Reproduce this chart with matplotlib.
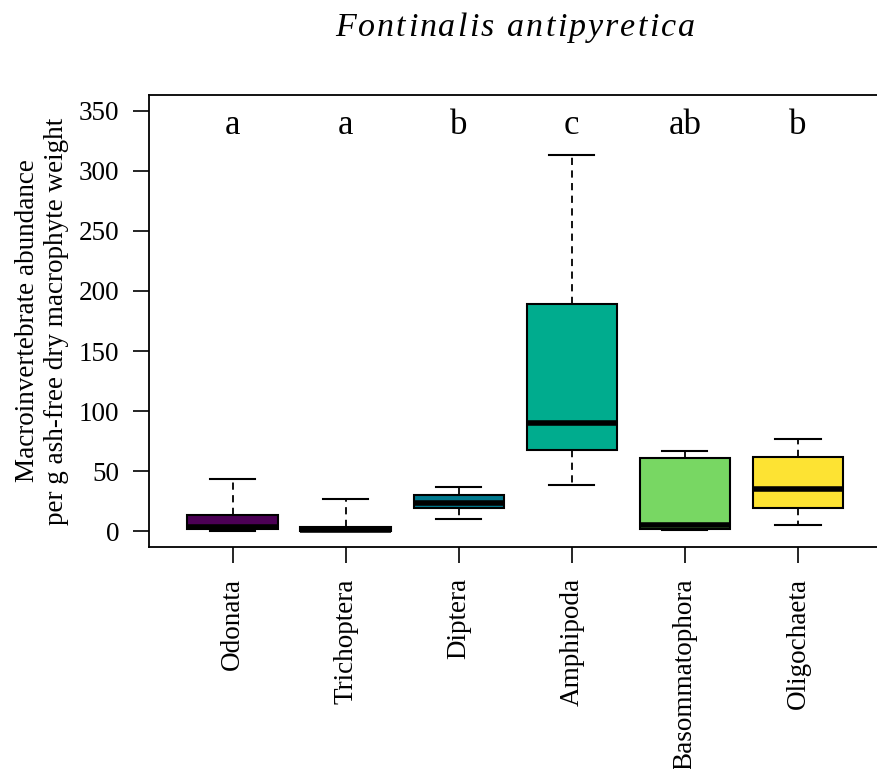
import matplotlib
matplotlib.use('Agg')
import matplotlib.pyplot as plt

plt.rcParams['font.family'] = ['Liberation Serif', 'DejaVu Serif']

# box statistics per taxon (abundance per g AFDW)
taxa = ['Odonata', 'Trichoptera', 'Diptera', 'Amphipoda', 'Basommatophora', 'Oligochaeta']
whislo = [0.3, 0.0, 10.3, 38.0, 0.8, 5.3]
q1 = [1.5, 0.0, 19.0, 67.5, 1.7, 19.0]
med = [3.0, 1.0, 23.6, 90.3, 5.3, 34.7]
q3 = [13.3, 3.0, 29.7, 189.0, 60.5, 62.0]
whishi = [43.0, 27.0, 37.0, 313.6, 67.0, 76.4]
letters = ['a', 'a', 'b', 'c', 'ab', 'b']
colors = ['#4B0055', '#274983', '#00788D', '#00AC8E', '#78D763', '#FDE333']

stats = []
for i in range(len(taxa)):
    stats.append(dict(label=taxa[i], whislo=whislo[i], q1=q1[i], med=med[i],
                      q3=q3[i], whishi=whishi[i], fliers=[]))

fig = plt.figure(figsize=(8.78, 7.69), dpi=100)
ax = fig.add_axes([149 / 878, 1 - 547 / 769, (881.6 - 149) / 878, (547 - 95) / 769])

bp = ax.bxp(stats, positions=range(1, 7), widths=0.8, patch_artist=True,
            boxprops=dict(edgecolor='black', linewidth=1.5),
            medianprops=dict(color='black', linewidth=4, solid_capstyle='butt'),
            whiskerprops=dict(color='black', linewidth=1.3, linestyle=(0, (4, 3))),
            capprops=dict(color='black', linewidth=1.5), capwidths=0.4)
for patch, c in zip(bp['boxes'], colors):
    patch.set_facecolor(c)

for i, l in enumerate(letters):
    ax.text(i + 1, 338, l, ha='center', va='center', fontsize=25)

ax.set_xlim(0.26, 6.74)
ax.set_ylim(-13.3, 363.3)
ax.set_yticks(range(0, 351, 50))
ax.set_xticks(range(1, 7))
ax.set_xticklabels(taxa, rotation=90, fontsize=19.5)
ax.tick_params(axis='y', labelsize=19.5, length=11.5, width=1.2, pad=10)
ax.tick_params(axis='x', length=11.5, width=1.2, pad=11)
ax.spines['right'].set_visible(False)
for s in ['left', 'bottom', 'top']:
    ax.spines[s].set_linewidth(1.3)

fig.text(42 / 878, 1 - 321 / 769,
         'Macroinvertebrate abundance\nper g ash-free dry macrophyte weight',
         rotation=90, ha='center', va='center', fontsize=19.5, linespacing=1.2)

# title, spread out a little letter by letter
title = 'Fontinalis antipyretica'
tt = fig.text(0, 0, title, style='italic', fontsize=24.5)
fig.canvas.draw()
r = fig.canvas.get_renderer()
gap = 2.2
widths = []
for ch in title:
    t = fig.text(0, 0, ch, style='italic', fontsize=24.5)
    widths.append(t.get_window_extent(r).width)
    t.remove()
full = tt.get_window_extent(r).width
tt.remove()
scale = full / sum(widths)
x = 515 - (full + gap * (len(title) - 1)) / 2
for ch, w in zip(title, widths):
    fig.text(x / 878, 1 - 28 / 769, ch, style='italic', fontsize=24.5, va='center')
    x += w * scale + gap

plt.savefig('out.png', dpi=100)
